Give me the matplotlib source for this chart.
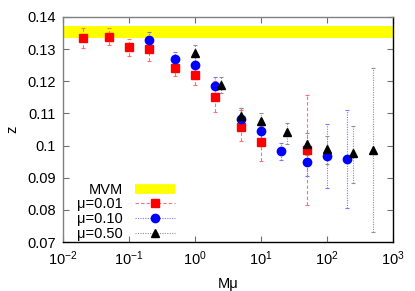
import numpy as np
import matplotlib
matplotlib.use("Agg")
import matplotlib.pyplot as plt
from matplotlib.lines import Line2D
from matplotlib.ticker import LogLocator, LogFormatterMathtext, MultipleLocator

plt.rcParams['font.family'] = ['Liberation Sans', 'DejaVu Sans']
plt.rcParams['mathtext.fontset'] = 'custom'
plt.rcParams['mathtext.rm'] = 'Liberation Sans'
plt.rcParams['mathtext.it'] = 'Liberation Sans'

# MVM band
mvm_lo, mvm_hi = 0.1335, 0.1372

# mu = 0.01
m1 = [0.02, 0.05, 0.1, 0.2, 0.5, 1, 2, 5, 10, 50]
z1 = [0.1335, 0.1337, 0.1305, 0.1300, 0.1242, 0.1218, 0.1152, 0.1058, 0.1012, 0.0987]
lo1 = [0.1304, 0.1312, 0.1279, 0.1263, 0.1217, 0.1187, 0.1105, 0.1015, 0.0953, 0.0816]
hi1 = [0.1366, 0.1365, 0.1332, 0.1330, 0.1268, 0.1250, 0.1200, 0.1110, 0.1060, 0.1158]

# mu = 0.10
m2 = [0.2, 0.5, 1, 2, 5, 10, 20, 50, 100, 200]
z2 = [0.1327, 0.1269, 0.1249, 0.1184, 0.1083, 0.1044, 0.0984, 0.0950, 0.0969, 0.0959]
lo2 = [0.1300, 0.1245, 0.1220, 0.1155, 0.1050, 0.1012, 0.0956, 0.0906, 0.0869, 0.0807]
hi2 = [0.1353, 0.1292, 0.1280, 0.1212, 0.1117, 0.1075, 0.1008, 0.0995, 0.1068, 0.1111]

# mu = 0.50
m3 = [1, 2.5, 5, 10, 25, 50, 100, 250, 500]
z3 = [0.1289, 0.1189, 0.1093, 0.1075, 0.1042, 0.1005, 0.0989, 0.0977, 0.0987]
lo3 = [0.1262, 0.1164, 0.1062, 0.1040, 0.1005, 0.0970, 0.0943, 0.0885, 0.0730]
hi3 = [0.1313, 0.1212, 0.1117, 0.1100, 0.1071, 0.1040, 0.1030, 0.1062, 0.1241]

fig = plt.figure(figsize=(4.15, 2.91), dpi=100)
ax = fig.add_axes([0.152, 0.168, 0.795, 0.774])

ax.axhspan(mvm_lo, mvm_hi, color='#ffff00', lw=0, zorder=1)

def series(m, z, lo, hi, marker, mc, ec, ls, ms):
    z = np.array(z)
    err = [z - np.array(lo), np.array(hi) - z]
    eb = ax.errorbar(m, z, yerr=err, fmt='none', ecolor=ec, elinewidth=0.8,
                     capsize=1.5, capthick=0.8, zorder=2)
    eb[2][0].set_linestyle(ls)
    ax.plot(m, z, linestyle='none', marker=marker, color=mc, ms=ms, zorder=3)

series(m1, z1, lo1, hi1, 's', '#ff0000', '#ff7070', (0, (3, 2)), 5.5)
series(m2, z2, lo2, hi2, 'o', '#0000ff', '#7878ff', (0, (1, 1.2)), 6)
series(m3, z3, lo3, hi3, '^', '#000000', '#909090', (0, (1, 1.2)), 5.5)

ax.set_xscale('log')
ax.set_xlim(0.01, 1000)
ax.set_ylim(0.07, 0.14)
ax.xaxis.set_major_locator(LogLocator(base=10, numticks=10))
ax.xaxis.set_minor_locator(plt.NullLocator())
ax.xaxis.set_major_formatter(LogFormatterMathtext())
ax.yaxis.set_major_locator(MultipleLocator(0.01))
ax.yaxis.set_major_formatter(plt.FuncFormatter(lambda v, p: '0.1' if abs(v - 0.1) < 1e-9 else '%.2f' % v))

ax.tick_params(which='both', direction='in', top=True, right=True, labelsize=10.5,
               length=4, width=0.8, color='#707070', pad=5)
for s in ['left', 'top']:
    ax.spines[s].set_color('#808080')
for s in ['right', 'bottom']:
    ax.spines[s].set_color('#000000')
for s in ax.spines.values():
    s.set_linewidth(1.0)

ax.set_xlabel('M\u03bc', fontsize=10.5, labelpad=7)
ax.set_ylabel('z', fontsize=10.5, labelpad=6)

handles = [
    Line2D([], [], color='#ffff00', lw=7, solid_capstyle='butt'),
    Line2D([], [], color='#ff7070', lw=0.8, ls=(0, (3, 2)), marker='s', mfc='#ff0000', mec='#ff0000', ms=5.5),
    Line2D([], [], color='#7878ff', lw=0.8, ls=(0, (1, 1.2)), marker='o', mfc='#0000ff', mec='#0000ff', ms=6),
    Line2D([], [], color='#909090', lw=0.8, ls=(0, (1, 1.2)), marker='^', mfc='#000000', mec='#000000', ms=5.5),
]
labels = ['MVM', '\u03bc=0.01', '\u03bc=0.10', '\u03bc=0.50']
ax.legend(handles, labels, loc='lower left', bbox_to_anchor=(0.012, -0.04), frameon=False,
          markerfirst=False, fontsize=10.5, handlelength=2.8, handletextpad=0.8,
          labelspacing=0.05, borderaxespad=0.3)

fig.savefig('out.png', dpi=100)
